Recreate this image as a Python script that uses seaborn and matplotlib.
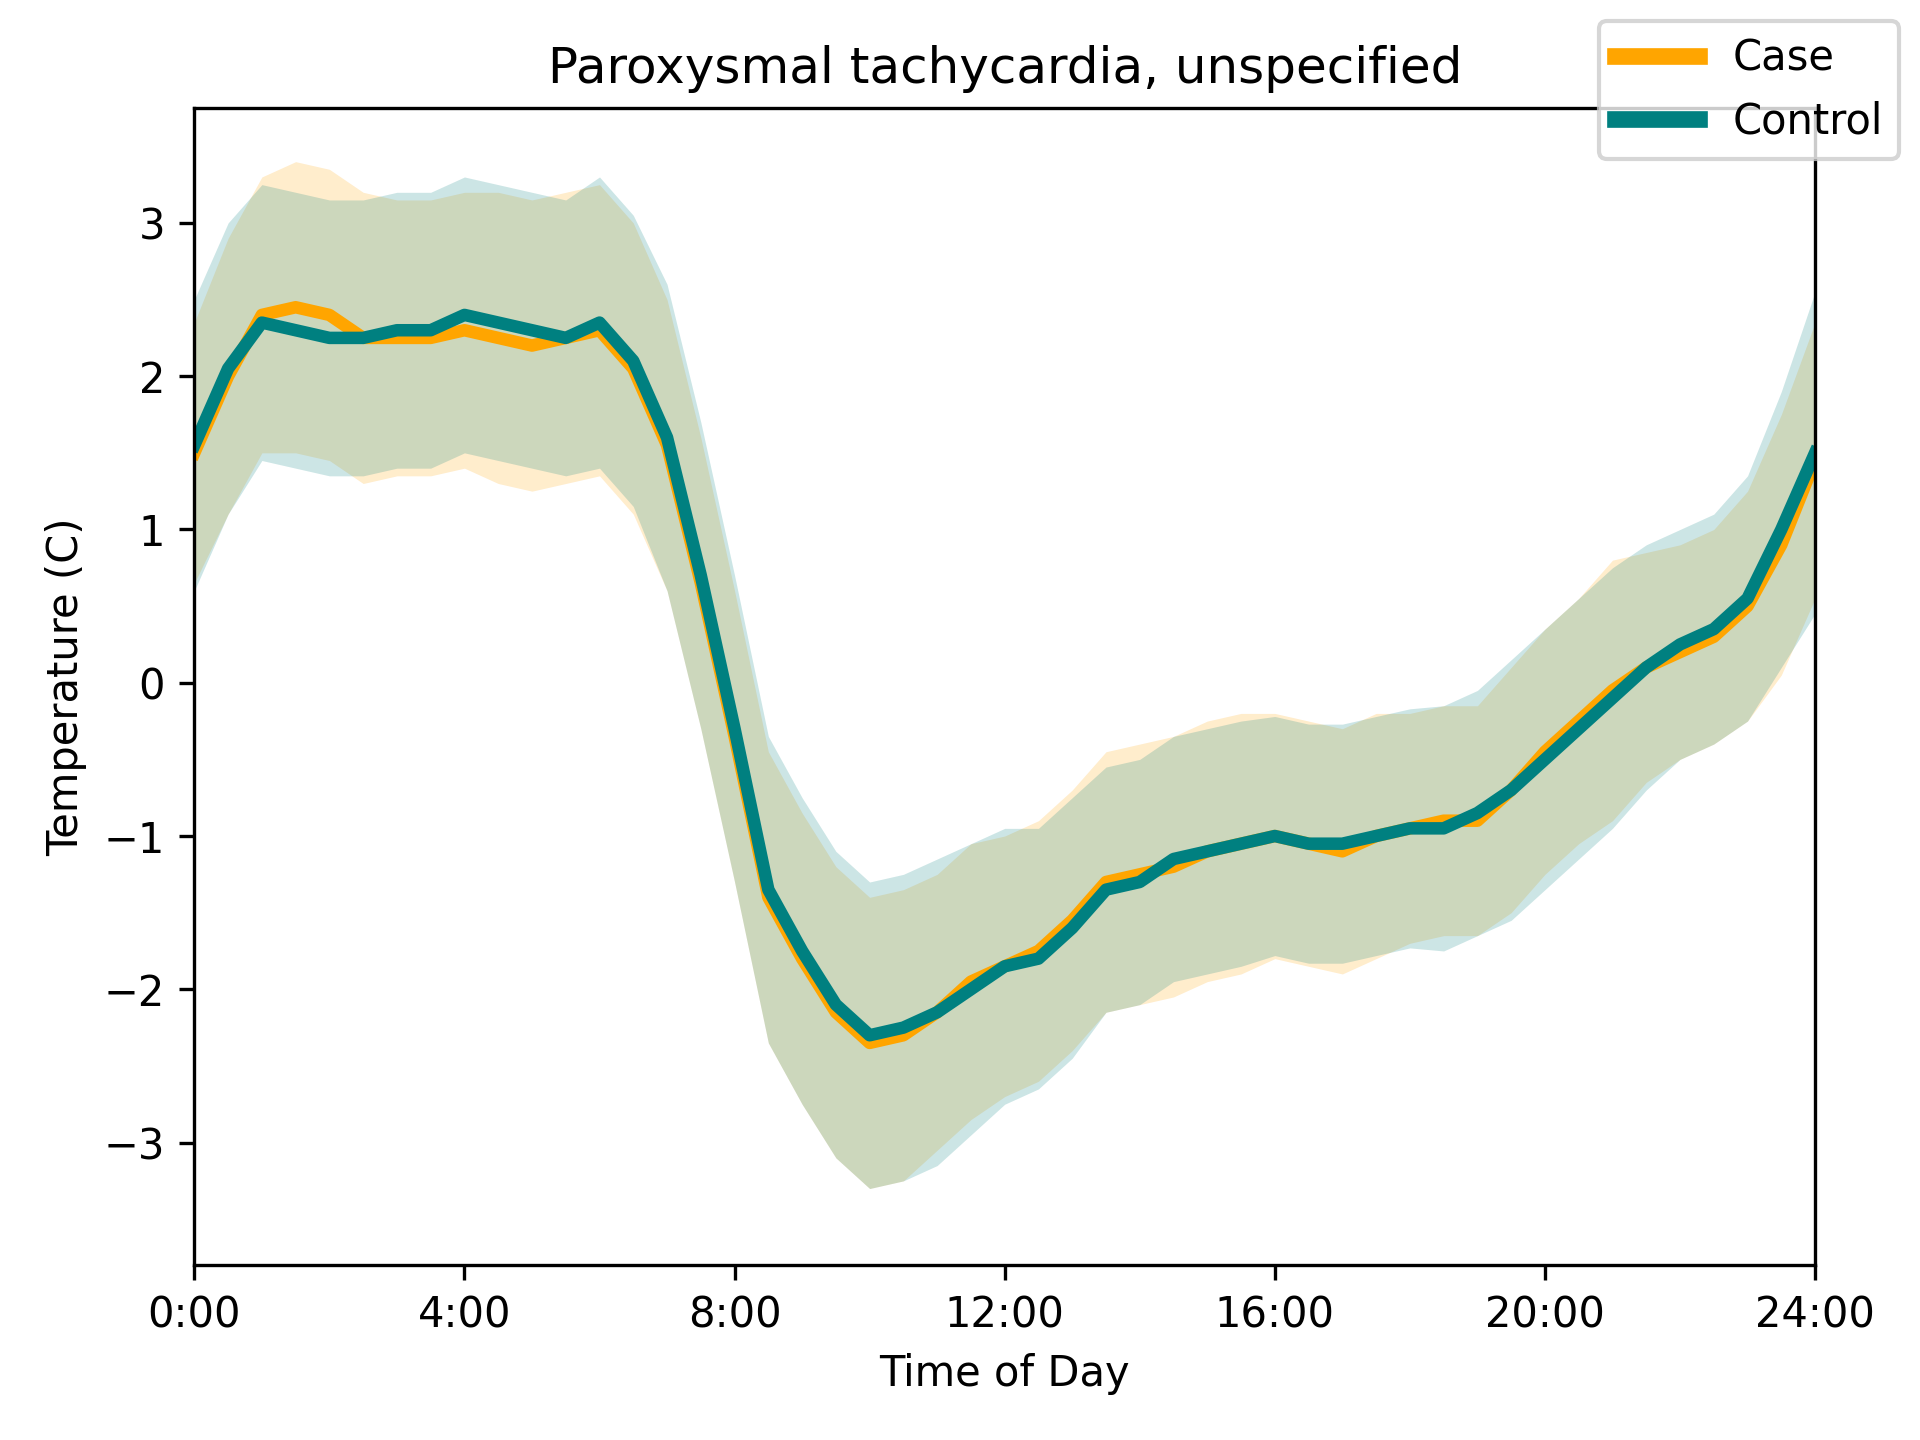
import numpy as np
import pandas as pd
import seaborn as sns
import matplotlib.pyplot as plt
from matplotlib.lines import Line2D

hours = [i * 0.5 for i in range(49)]

control_mean = [1.55, 2.05, 2.35, 2.3, 2.25, 2.25, 2.3, 2.3, 2.4, 2.35, 2.3, 2.25, 2.35, 2.1,
                1.6, 0.7, -0.3, -1.35, -1.75, -2.1, -2.3, -2.25, -2.15, -2.0, -1.85, -1.8,
                -1.6, -1.35, -1.3, -1.15, -1.1, -1.05, -1.0, -1.05, -1.05, -1.0, -0.95,
                -0.95, -0.85, -0.7, -0.5, -0.3, -0.1, 0.1, 0.25, 0.35, 0.55, 1.0, 1.5]
case_mean = [1.5, 2.0, 2.4, 2.45, 2.4, 2.25, 2.25, 2.25, 2.3, 2.25, 2.2, 2.25, 2.3, 2.05,
             1.55, 0.65, -0.35, -1.4, -1.8, -2.15, -2.35, -2.3, -2.15, -1.95, -1.85, -1.75,
             -1.55, -1.3, -1.25, -1.2, -1.1, -1.05, -1.0, -1.05, -1.1, -1.0, -0.95,
             -0.9, -0.9, -0.7, -0.45, -0.25, -0.05, 0.1, 0.2, 0.3, 0.5, 0.9, 1.45]
control_sd = [0.95, 0.95, 0.9, 0.9, 0.9, 0.9, 0.9, 0.9, 0.9, 0.9, 0.9, 0.9, 0.95, 0.95,
              1.0, 1.0, 1.0, 1.0, 1.0, 1.0, 1.0, 1.0, 1.0, 0.95, 0.9, 0.85, 0.85, 0.8,
              0.8, 0.8, 0.8, 0.8, 0.78, 0.78, 0.78, 0.78, 0.78, 0.8, 0.8, 0.85, 0.85,
              0.85, 0.85, 0.8, 0.75, 0.75, 0.8, 0.9, 1.05]
case_sd = [0.85, 0.9, 0.9, 0.95, 0.95, 0.95, 0.9, 0.9, 0.9, 0.95, 0.95, 0.95, 0.95, 0.95,
           0.95, 0.95, 0.95, 0.95, 0.95, 0.95, 0.95, 0.95, 0.9, 0.9, 0.85, 0.85, 0.85,
           0.85, 0.85, 0.85, 0.85, 0.85, 0.8, 0.8, 0.8, 0.8, 0.75, 0.75, 0.75, 0.8,
           0.8, 0.8, 0.85, 0.75, 0.7, 0.7, 0.75, 0.85, 0.9]

tick_labels = ["0:00", "4:00", "8:00", "12:00", "16:00", "20:00", "24:00"]

df = pd.DataFrame({"hour": hours * 2,
                   "temp": case_mean + control_mean,
                   "group": ["Case"] * 49 + ["Control"] * 49})

fig, ax = plt.subplots(figsize=(6.4, 4.8), dpi=300)
h = np.array(hours)
ax.fill_between(h, np.array(case_mean) - case_sd, np.array(case_mean) + case_sd,
                color="orange", alpha=0.2, linewidth=0)
ax.fill_between(h, np.array(control_mean) - control_sd, np.array(control_mean) + control_sd,
                color="teal", alpha=0.2, linewidth=0)
sns.lineplot(data=df, x="hour", y="temp", hue="group",
             palette={"Case": "orange", "Control": "teal"}, linewidth=3, ax=ax, legend=False)

ax.set_xlim(0, 24)
ax.set_ylim(-3.8, 3.75)
ax.set_xticks(range(0, 25, 4))
ax.set_xticklabels(tick_labels)
ax.set_xlabel("Time of Day")
ax.set_ylabel("Temperature (C)")
ax.set_title("Paroxysmal tachycardia, unspecified")

handles = [Line2D([], [], color="orange", lw=4), Line2D([], [], color="teal", lw=4)]
fig.legend(handles, ["Case", "Control"], loc="upper right")
fig.tight_layout()
fig.savefig("out.png")
